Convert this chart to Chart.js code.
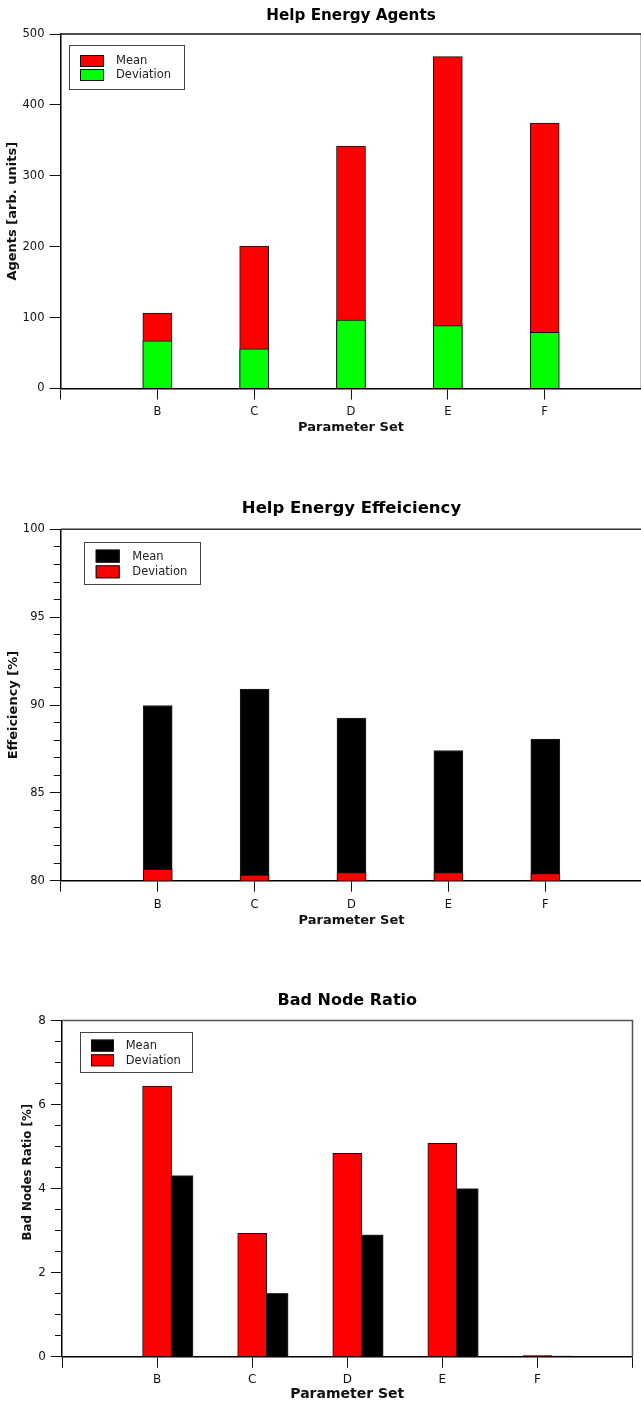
<!DOCTYPE html>
<html>
<head>
<meta charset="utf-8">
<script src="https://cdn.jsdelivr.net/npm/chart.js@4.4.1/dist/chart.umd.min.js"></script>
<style>
  html, body { margin: 0; padding: 0; background: #fff; overflow: hidden; width: 641px; height: 1402px; }
  canvas { position: absolute; left: 0; display: block; }
</style>
</head>
<body>
<canvas id="agents" width="660" height="450" style="top:0px"></canvas>
<canvas id="efficiency" width="660" height="490" style="top:450px"></canvas>
<canvas id="badnodes" width="660" height="465" style="top:940px"></canvas>
<script>
// ---- data ----
const parameterSets = ['B', 'C', 'D', 'E', 'F'];

const agentsMean      = [106.5, 201, 342, 468, 374.5];
const agentsDeviation = [67.4, 56.1, 96.6, 88.6, 79.3];

const efficiencyMean      = [89.97, 90.91, 89.26, 87.41, 88.06];
const efficiencyDeviation = [0.65, 0.32, 0.46, 0.46, 0.40];

const badNodeMean      = [4.31, 1.51, 2.90, 4.00, 0.02];
const badNodeDeviation = [6.44, 2.94, 4.84, 5.08, 0.03];

// value-axis ranges and tick steps
const agentsAxis     = { min: 0,  max: 500, step: 100 };
const efficiencyAxis = { min: 80, max: 100, step: 5, minorStep: 1 };
const badNodeAxis    = { min: 0,  max: 8,   step: 2, minorStep: 0.5 };

// ---- helpers ----
Chart.defaults.font.family = "'DejaVu Sans', 'Noto Sans', sans-serif";
Chart.defaults.color = '#111';

const points = values => values.map((v, i) => ({ x: i + 1, y: v }));

// top/right edges of the plot frame
const framePlugin = {
  id: 'frame',
  beforeDatasetsDraw(chart, args, o) {
    const { ctx, chartArea: a } = chart;
    ctx.save();
    ctx.strokeStyle = o.color;
    ctx.lineWidth = o.width;
    ctx.beginPath();
    ctx.moveTo(a.left, a.top);
    ctx.lineTo(a.right, a.top);
    ctx.lineTo(a.right, a.bottom);
    ctx.stroke();
    ctx.restore();
  }
};

// boxed legend placed inside the plot area
const boxLegendPlugin = {
  id: 'boxLegend',
  afterDatasetsDraw(chart, args, o) {
    const { ctx, chartArea: a } = chart;
    const x = Math.round(a.left + o.x), y = Math.round(a.top + o.y);
    ctx.save();
    ctx.fillStyle = '#fff';
    ctx.fillRect(x, y, o.w, o.h);
    ctx.strokeStyle = '#444';
    ctx.lineWidth = 1;
    ctx.strokeRect(x + 0.5, y + 0.5, o.w, o.h);
    ctx.font = `${o.fontSize}px 'DejaVu Sans', sans-serif`;
    ctx.textBaseline = 'middle';
    ctx.textAlign = 'left';
    chart.data.datasets.forEach((ds, i) => {
      const sy = y + o.rows[i];
      ctx.fillStyle = ds.backgroundColor;
      ctx.fillRect(x + o.swatchX, sy, o.swatchW, o.swatchH);
      ctx.strokeStyle = '#111';
      ctx.strokeRect(x + o.swatchX + 0.5, sy + 0.5, o.swatchW - 1, o.swatchH - 1);
      ctx.fillStyle = '#222';
      ctx.fillText(ds.label, x + o.textX, sy + o.swatchH / 2 + 0.5);
    });
    ctx.restore();
  }
};

// rotated value-axis caption with a vertical shift from the axis centre
const sideTitlePlugin = {
  id: 'sideTitle',
  afterDraw(chart, args, o) {
    if (!o || !o.text) return;
    const { ctx, chartArea: a } = chart;
    ctx.save();
    ctx.translate(o.x, (a.top + a.bottom) / 2 + o.dy);
    ctx.rotate(-Math.PI / 2);
    ctx.font = `bold ${o.fontSize}px 'DejaVu Sans', sans-serif`;
    ctx.fillStyle = '#111';
    ctx.textAlign = 'center';
    ctx.textBaseline = 'middle';
    ctx.fillText(o.text, 0, 0);
    ctx.restore();
  }
};

function xAxis(c) {
  return {
    type: 'linear',
    offset: false,
    min: 0,
    max: parameterSets.length + 1,
    ticks: {
      stepSize: 1, autoSkip: false, maxRotation: 0, padding: c.tickPad,
      color: '#111', font: { size: c.tickSize },
      callback: v => parameterSets[v - 1] ?? ''
    },
    grid: { offset: false, drawOnChartArea: false, drawTicks: true, tickLength: 11, tickColor: '#111', tickWidth: 1 },
    border: { display: true, color: '#000', width: 1.5 },
    title: {
      display: true, text: 'Parameter Set', color: '#111',
      font: { size: c.titleSize, weight: 'bold' },
      padding: { top: 0, bottom: c.titlePad }
    },
    afterFit: s => { s.height = c.height; }
  };
}

function yAxis(range, c) {
  return {
    type: 'linear',
    position: 'left',
    weight: 1,
    min: range.min,
    max: range.max,
    ticks: { stepSize: range.step, padding: 5, color: '#111', font: { size: c.tickSize } },
    grid: { drawOnChartArea: false, drawTicks: true, tickLength: 11, tickColor: '#111', tickWidth: 1 },
    border: { display: true, color: '#000', width: 1.5 },
    title: {
      display: !!c.title, text: c.title || '', color: '#111',
      font: { size: c.titleSize, weight: 'bold' },
      padding: { top: c.titlePad, bottom: 0 }
    },
    afterFit: s => { s.width = c.width; }
  };
}

function minorAxis(range) {
  return {
    type: 'linear',
    position: 'left',
    weight: 0,
    min: range.min,
    max: range.max,
    ticks: { stepSize: range.minorStep, display: false },
    grid: { drawOnChartArea: false, drawTicks: true, tickLength: 7, tickColor: '#111', tickWidth: 1 },
    border: { display: false },
    afterFit: s => { s.width = 0; }
  };
}

function hiddenX(shift) {
  return { type: 'linear', display: false, offset: false, min: -shift, max: parameterSets.length + 1 - shift };
}

function baseOptions(c) {
  return {
    responsive: false,
    animation: false,
    devicePixelRatio: 1,
    layout: { padding: c.padding, autoPadding: false },
    plugins: {
      legend: { display: false },
      tooltip: { enabled: false },
      title: {
        display: true, text: c.title, color: '#000', fullSize: false,
        font: { size: c.titleSize, weight: 'bold' },
        padding: { top: c.titleTop, bottom: c.titleBottom }
      },
      frame: c.frame,
      boxLegend: c.legend,
      sideTitle: c.sideTitle || {}
    },
    scales: c.scales
  };
}

const barStyle = { barThickness: 29, grouped: false, borderWidth: 1 };

// ---- Help Energy Agents ----
new Chart(document.getElementById('agents'), {
  type: 'bar',
  data: {
    datasets: [
      { ...barStyle, label: 'Mean', data: points(agentsMean), backgroundColor: '#ff0000', borderColor: '#111', order: 1 },
      { ...barStyle, label: 'Deviation', data: points(agentsDeviation), backgroundColor: '#00ff00', borderColor: '#111', order: 0 }
    ]
  },
  options: baseOptions({
    padding: { left: 0, right: 18.5, top: 0, bottom: 11.5 },
    title: 'Help Energy Agents', titleSize: 15.2, titleTop: 6.9, titleBottom: 8.86,
    frame: { color: '#111', width: 1.5 },
    legend: { x: 8.5, y: 11, w: 115, h: 44, swatchX: 11, swatchW: 24, swatchH: 12, rows: [10, 24], textX: 47, fontSize: 11.5 },
    scales: {
      x: xAxis({ tickPad: 5.6, tickSize: 11.5, titleSize: 13, titlePad: 3.2, height: 50 }),
      y: yAxis(agentsAxis, { tickSize: 11.5, title: 'Agents [arb. units]', titleSize: 13, titlePad: 4.9, width: 60.5 })
    }
  }),
  plugins: [framePlugin, boxLegendPlugin]
});

// ---- Help Energy Effeiciency ----
new Chart(document.getElementById('efficiency'), {
  type: 'bar',
  data: {
    datasets: [
      { ...barStyle, label: 'Mean', data: points(efficiencyMean), base: efficiencyAxis.min, backgroundColor: '#000000', borderColor: '#222', order: 1 },
      { ...barStyle, label: 'Deviation', data: points(efficiencyDeviation), yAxisID: 'yd', backgroundColor: '#ff0000', borderColor: '#111', order: 0 }
    ]
  },
  options: baseOptions({
    padding: { left: 0, right: 17.8, top: 0, bottom: 9.3 },
    title: 'Help Energy Effeiciency', titleSize: 16.5, titleTop: 49.1, titleBottom: 10.4,
    frame: { color: '#333', width: 1.5 },
    legend: { x: 23.2, y: 12.4, w: 116, h: 42, swatchX: 11.7, swatchW: 24, swatchH: 13, rows: [7.6, 23.3], textX: 48.3, fontSize: 11.5 },
    scales: {
      x: xAxis({ tickPad: 6.6, tickSize: 11.5, titleSize: 13, titlePad: 2.2, height: 50 }),
      y: yAxis(efficiencyAxis, { tickSize: 11.5, title: 'Effeiciency [%]', titleSize: 13, titlePad: 6.2, width: 60.8 }),
      ym: minorAxis(efficiencyAxis),
      yd: { type: 'linear', display: false, min: 0, max: efficiencyAxis.max - efficiencyAxis.min }
    }
  }),
  plugins: [framePlugin, boxLegendPlugin]
});

// ---- Bad Node Ratio ----
const meanShift = 0.226; // Mean bars sit to the right of the Deviation bars
new Chart(document.getElementById('badnodes'), {
  type: 'bar',
  data: {
    datasets: [
      { ...barStyle, label: 'Mean', data: points(badNodeMean), xAxisID: 'xs', backgroundColor: '#000000', borderColor: '#333', order: 1 },
      { ...barStyle, label: 'Deviation', data: points(badNodeDeviation), backgroundColor: '#ff0000', borderColor: '#111', order: 0 }
    ]
  },
  options: baseOptions({
    padding: { left: 0, right: 27.5, top: 0, bottom: 0.2 },
    title: 'Bad Node Ratio', titleSize: 16, titleTop: 51.1, titleBottom: 10.2,
    frame: { color: '#555', width: 1.5 },
    legend: { x: 18, y: 11.2, w: 112, h: 40, swatchX: 11, swatchW: 23, swatchH: 12, rows: [7.6, 22.3], textX: 45.7, fontSize: 11.5 },
    sideTitle: { text: 'Bad Nodes Ratio [%]', fontSize: 11.8, x: 28, dy: -16.5 },
    scales: {
      x: xAxis({ tickPad: 5.2, tickSize: 12, titleSize: 14, titlePad: 1.7, height: 48 }),
      xs: hiddenX(meanShift),
      y: yAxis(badNodeAxis, { tickSize: 12, title: '', titleSize: 11.8, titlePad: 0, width: 62 }),
      ym: minorAxis(badNodeAxis)
    }
  }),
  plugins: [framePlugin, boxLegendPlugin, sideTitlePlugin]
});
</script>
</body>
</html>
